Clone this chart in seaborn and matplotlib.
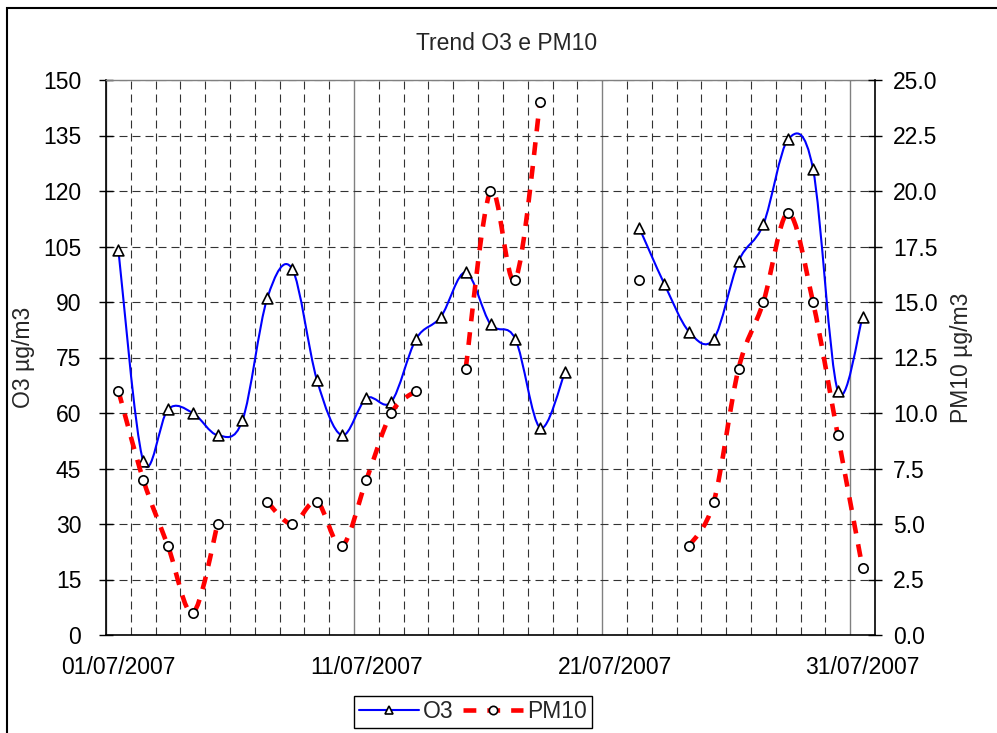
import numpy as np
import pandas as pd
import matplotlib
matplotlib.use("Agg")
import matplotlib.pyplot as plt
import matplotlib.dates as mdates
import seaborn as sns
from matplotlib.path import Path
from matplotlib.patches import PathPatch, Rectangle
from matplotlib.lines import Line2D
from matplotlib.transforms import ScaledTranslation


# dati giornalieri luglio 2007 (punti a mezzogiorno)
days = pd.date_range("2007-07-01 12:00", periods=31, freq="D")
o3 = [104, 47, 61, 60, 54, 58, 91, 99, 69, 54, 64, 63, 80, 86, 98, 84,
      80, 56, 71, np.nan, np.nan, 110, 95, 82, 80, 101, 111, 134, 126, 66, 86]
pm10 = [11, 7, 4, 1, 5, np.nan, 6, 5, 6, 4, 7, 10, 11, np.nan, 12, 20,
        16, 24, np.nan, np.nan, np.nan, 16, np.nan, 4, 6, 12, 15, 19, 15, 9, 3]

date_ticks = pd.to_datetime(["2007-07-01", "2007-07-11", "2007-07-21", "2007-07-31"])
o3_ticks = np.arange(0, 151, 15)
pm10_ticks = np.arange(0, 25.1, 2.5)

df = pd.DataFrame({"data": days, "O3": o3, "PM10": pm10})

FONT = 16.5
W, H = 997, 733


def smooth_paths(x, y):
    """
    Linea smussata tipo Excel (bezier cubiche) spezzata nei buchi dei dati
    """
    x = np.asarray(x, float)
    y = np.asarray(y, float)
    ok = ~np.isnan(y)
    paths = []
    i, n = 0, len(y)
    while i < n:
        if not ok[i]:
            i += 1
            continue
        j = i
        while j + 1 < n and ok[j + 1]:
            j += 1
        pts = np.column_stack([x[i:j + 1], y[i:j + 1]])
        if len(pts) > 1:
            verts = [pts[0]]
            codes = [Path.MOVETO]
            for k in range(len(pts) - 1):
                p0 = pts[max(k - 1, 0)]
                p1 = pts[k]
                p2 = pts[k + 1]
                p3 = pts[min(k + 2, len(pts) - 1)]
                verts += [p1 + (p2 - p0) / 6, p2 - (p3 - p1) / 6, p2]
                codes += [Path.CURVE4] * 3
            paths.append(Path(verts, codes))
        i = j + 1
    return paths


sns.set_style("white")
plt.rcParams["font.family"] = ["Liberation Sans", "DejaVu Sans"]

fig = plt.figure(figsize=(W / 100, H / 100), dpi=100)
ax = fig.add_axes([106 / W, 1 - 635 / H, 769 / W, 555 / H])
ax2 = ax.twinx()

xnum = mdates.date2num(days)

# O3 - asse sinistro
for p in smooth_paths(xnum, o3):
    ax.add_patch(PathPatch(p, fill=False, edgecolor="#0000FF", lw=1.5, zorder=2))
sns.scatterplot(data=df, x="data", y="O3", ax=ax, marker="^", s=60,
                color="white", edgecolor="black", linewidth=1.2, zorder=3)

# PM10 - asse destro
for p in smooth_paths(xnum, pm10):
    ax2.add_patch(PathPatch(p, fill=False, edgecolor="#FF0000", lw=3.3,
                            linestyle=(0, (2.8, 2.4)), capstyle="butt", zorder=2))
sns.scatterplot(data=df, x="data", y="PM10", ax=ax2, marker="o", s=45,
                color="white", edgecolor="black", linewidth=1.2, zorder=3)

ax.set_xlim(mdates.date2num(pd.Timestamp("2007-07-01")),
            mdates.date2num(pd.Timestamp("2007-08-01")))
ax.set_ylim(0, 150)
ax2.set_ylim(0, 25)

ax.set_xticks(mdates.date2num(date_ticks))
ax.xaxis.set_major_formatter(mdates.DateFormatter("%d/%m/%Y"))
ax.xaxis.set_minor_locator(mdates.DayLocator())
ax.set_yticks(o3_ticks)
ax2.set_yticks(pm10_ticks)
ax2.set_yticklabels([f"{v:.1f}" for v in pm10_ticks])

# griglia
ax.grid(False)
ax.set_axisbelow(True)
ax.xaxis.grid(True, which="major", color="#808080", lw=1.0, ls="-")
ax.xaxis.grid(True, which="minor", color="#333333", lw=0.8, ls=(0, (7.2, 4.5)))
ax.yaxis.grid(True, which="major", color="#333333", lw=0.8, ls=(0, (7.2, 4.5)))
ax2.grid(False)

ax.tick_params(axis="x", which="major", direction="out", length=6, width=1,
               labelsize=FONT, pad=9, colors="black")
ax.tick_params(axis="x", which="minor", length=0)
ax.tick_params(axis="y", direction="inout", length=9.5, width=1,
               labelsize=FONT, pad=13, colors="black")
ax2.tick_params(axis="y", direction="inout", length=10, width=1,
                labelsize=FONT, pad=8, colors="black")

# etichette date centrate sul giorno
shift = ScaledTranslation(12.4 / 100, 0, fig.dpi_scale_trans)
for lab in ax.get_xticklabels():
    lab.set_transform(lab.get_transform() + shift)

ax.set_xlabel("")
ax.set_ylabel("O3 µg/m3", fontsize=FONT)
ax.yaxis.set_label_coords(-0.092, 0.5)
ax2.set_xlabel("")
ax2.set_ylabel("PM10 µg/m3", fontsize=FONT, rotation=90)
ax2.yaxis.set_label_coords(1.0975, 0.5)

for s in ["left", "bottom"]:
    ax.spines[s].set_color("black")
    ax.spines[s].set_linewidth(1.2)
ax.spines["top"].set_color("#808080")
ax.spines["top"].set_linewidth(1.0)
ax.spines["right"].set_visible(False)
for s in ["left", "top", "bottom"]:
    ax2.spines[s].set_visible(False)
ax2.spines["right"].set_color("black")
ax2.spines["right"].set_linewidth(1.2)

fig.text(507 / W, 1 - 43 / H, "Trend O3 e PM10", ha="center", va="center",
         fontsize=FONT)

handles = [
    Line2D([], [], color="#0000FF", lw=1.5, marker="^", ms=6,
           mfc="white", mec="black", mew=1.2),
    Line2D([], [], color="#FF0000", lw=3.3, ls=(0, (2.8, 2.4)), marker="o",
           ms=6, mfc="white", mec="black", mew=1.2),
]
leg = fig.legend(handles, ["O3", "PM10"], loc="center",
                 bbox_to_anchor=(473 / W, 1 - 712 / H), ncol=2, fontsize=FONT,
                 frameon=True, fancybox=False, edgecolor="black", framealpha=1,
                 handlelength=2.6, handletextpad=0.2, columnspacing=0.4,
                 borderpad=0.2, borderaxespad=0)
leg.get_frame().set_linewidth(1.0)

# bordo dell'area grafico
fig.patches.append(Rectangle((7 / W, -0.05), 1.0, 1 - 8 / H + 0.05,
                             transform=fig.transFigure, fill=False,
                             edgecolor="black", lw=1.5))

fig.savefig("out.png", dpi=100)
